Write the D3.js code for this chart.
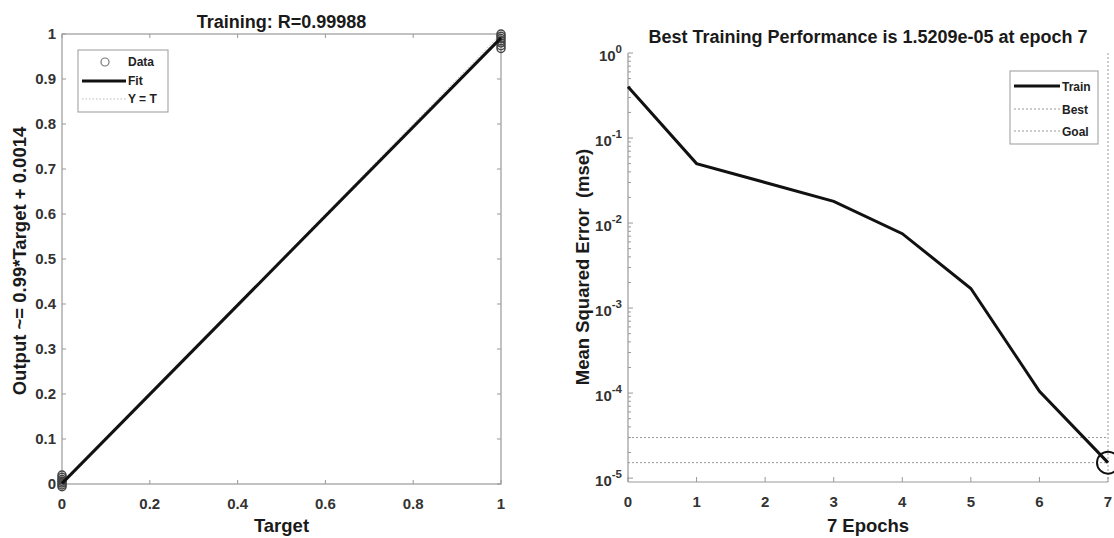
<!DOCTYPE html>
<html>
<head>
<meta charset="utf-8">
<script src="https://cdn.jsdelivr.net/npm/d3@7"></script>
<style>
  html, body { margin: 0; padding: 0; background: #fff; }
  svg { display: block; font-family: "Liberation Sans", Arial, sans-serif; }
</style>
</head>
<body>
<svg id="chart" width="1114" height="538"></svg>
<script>
// left panel: regression
const dataTarget = [0, 0, 0, 0, 0, 0, 0, 1, 1, 1, 1, 1, 1, 1]
const dataOutput = [-0.006, -0.002, 0.002, 0.006, 0.010, 0.015, 0.020, 0.968, 0.974, 0.980, 0.985, 0.990, 0.995, 1.0]
const fitSlope = 0.99
const fitOffset = 0.0014
const regXTicks = [0, 0.2, 0.4, 0.6, 0.8, 1]
const regYTicks = [0, 0.1, 0.2, 0.3, 0.4, 0.5, 0.6, 0.7, 0.8, 0.9, 1]
const regLegend = ['Data', 'Fit', 'Y = T']

// right panel: performance
const epochs = [0, 1, 2, 3, 4, 5, 6, 7]
const trainPerf = [0.40, 0.050, 0.030, 0.018, 0.0075, 0.0017, 0.000105, 0.000015209]
const bestEpoch = 7
const bestPerf = 0.000015209
const goalPerf = 0.00003
const perfXTicks = [0, 1, 2, 3, 4, 5, 6, 7]
const perfYExp = [0, -1, -2, -3, -4, -5]
const perfLegend = ['Train', 'Best', 'Goal']

const svg = d3.select('#chart')
const axisColor = '#999'
const labelColor = '#333'
const tickFont = '15px'
const titleFont = '18px'
const axisLabelFont = '18.5px'

svg.append('rect').attr('width', 1114).attr('height', 538).attr('fill', '#fff')

// ---------- left ----------
const drawRegression = () => {
  var m = {left: 62, right: 501, top: 34, bottom: 484}
  const x = d3.scaleLinear().domain([0, 1]).range([m.left, m.right])
  const y = d3.scaleLinear().domain([0, 1]).range([m.bottom, m.top])
  const g = svg.append('g')

  // box
  g.append('rect')
    .attr('x', m.left).attr('y', m.top)
    .attr('width', m.right - m.left).attr('height', m.bottom - m.top)
    .attr('fill', 'none').attr('stroke', axisColor).attr('stroke-width', 1.2)

  // ticks inside, on all sides
  regXTicks.forEach(t => {
    g.append('line').attr('x1', x(t)).attr('x2', x(t)).attr('y1', m.bottom).attr('y2', m.bottom - 4).attr('stroke', axisColor)
    g.append('line').attr('x1', x(t)).attr('x2', x(t)).attr('y1', m.top).attr('y2', m.top + 4).attr('stroke', axisColor)
  })
  regYTicks.forEach(t => {
    g.append('line').attr('x1', m.left).attr('x2', m.left + 4).attr('y1', y(t)).attr('y2', y(t)).attr('stroke', axisColor)
    g.append('line').attr('x1', m.right).attr('x2', m.right - 4).attr('y1', y(t)).attr('y2', y(t)).attr('stroke', axisColor)
  })

  g.selectAll('.xl').data(regXTicks).enter().append('text')
    .attr('x', d => x(d)).attr('y', m.bottom + 25)
    .attr('text-anchor', 'middle')
    .style('font-size', tickFont).style('font-weight', 'bold').style('fill', labelColor)
    .text(d => d3.format('~g')(d))

  g.selectAll('.yl').data(regYTicks).enter().append('text')
    .attr('x', m.left - 6).attr('y', d => y(d) + 5)
    .attr('text-anchor', 'end')
    .style('font-size', tickFont).style('font-weight', 'bold').style('fill', labelColor)
    .text(d => d3.format('~g')(d))

  // Y = T
  g.append('line')
    .attr('x1', x(0)).attr('y1', y(0)).attr('x2', x(1)).attr('y2', y(1))
    .attr('stroke', '#bbb').attr('stroke-width', 1).attr('stroke-dasharray', '1.5,2')

  // data circles
  g.selectAll('.pt').data(dataTarget).enter().append('circle')
    .attr('cx', d => x(d)).attr('cy', (d, i) => y(dataOutput[i]))
    .attr('r', 4)
    .attr('fill', 'none').attr('stroke', '#444').attr('stroke-width', 1.5)

  // fit
  const line = d3.line().x(d => x(d)).y(d => y(fitSlope * d + fitOffset))
  g.append('path').attr('d', line([0, 1]))
    .attr('fill', 'none').attr('stroke', '#111').attr('stroke-width', 3)

  // title and labels
  g.append('text').attr('x', (m.left + m.right) / 2).attr('y', 28)
    .attr('text-anchor', 'middle')
    .style('font-size', titleFont).style('font-weight', 'bold').style('fill', '#1a1a1a')
    .text('Training: R=0.99988')
  g.append('text').attr('x', (m.left + m.right) / 2).attr('y', 532)
    .attr('text-anchor', 'middle')
    .style('font-size', axisLabelFont).style('font-weight', 'bold').style('fill', '#1a1a1a')
    .text('Target')
  g.append('text')
    .attr('transform', `translate(26,261) rotate(-90)`)
    .attr('text-anchor', 'middle')
    .style('font-size', axisLabelFont).style('font-weight', 'bold').style('fill', '#1a1a1a')
    .text('Output ~= 0.99*Target + 0.0014')

  // legend
  const lg = g.append('g')
  lg.append('rect').attr('x', 78).attr('y', 50).attr('width', 90).attr('height', 62)
    .attr('fill', '#fff').attr('stroke', axisColor).attr('stroke-width', 1)
  lg.append('circle').attr('cx', 105).attr('cy', 62).attr('r', 4)
    .attr('fill', 'none').attr('stroke', '#777').attr('stroke-width', 1.2)
  lg.append('line').attr('x1', 82).attr('x2', 126).attr('y1', 81).attr('y2', 81)
    .attr('stroke', '#111').attr('stroke-width', 3)
  lg.append('line').attr('x1', 82).attr('x2', 126).attr('y1', 99).attr('y2', 99)
    .attr('stroke', '#bbb').attr('stroke-width', 1).attr('stroke-dasharray', '1.5,2')
  lg.selectAll('.lt').data(regLegend).enter().append('text')
    .attr('x', 128).attr('y', (d, i) => 66 + i * 18.5)
    .style('font-size', '12px').style('font-weight', 'bold').style('fill', '#222')
    .text(d => d)
}

// ---------- right ----------
const drawPerformance = () => {
  var m = {left: 628, right: 1108, top: 53, bottom: 482}
  const x = d3.scaleLinear().domain([0, 7]).range([m.left, m.right])
  const y = d3.scaleLog().domain([9e-6, 1]).range([m.bottom, m.top])
  const g = svg.append('g')

  // axes lines
  g.append('line').attr('x1', m.left).attr('x2', m.left).attr('y1', m.top).attr('y2', m.bottom)
    .attr('stroke', axisColor).attr('stroke-width', 1.2)
  g.append('line').attr('x1', m.left).attr('x2', m.right).attr('y1', m.bottom).attr('y2', m.bottom)
    .attr('stroke', axisColor).attr('stroke-width', 1.2)

  perfXTicks.forEach(t => {
    g.append('line').attr('x1', x(t)).attr('x2', x(t)).attr('y1', m.bottom).attr('y2', m.bottom - 5).attr('stroke', axisColor)
  })
  // log ticks, major and minor
  perfYExp.forEach(e => {
    const v = Math.pow(10, e)
    g.append('line').attr('x1', m.left).attr('x2', m.left + 5).attr('y1', y(v)).attr('y2', y(v)).attr('stroke', axisColor)
    if (e < 0) {
      d3.range(2, 10).forEach(k => {
        const mv = k * v
        g.append('line').attr('x1', m.left).attr('x2', m.left + 3).attr('y1', y(mv)).attr('y2', y(mv)).attr('stroke', axisColor)
      })
    }
  })

  g.selectAll('.xl').data(perfXTicks).enter().append('text')
    .attr('x', d => x(d)).attr('y', m.bottom + 25)
    .attr('text-anchor', 'middle')
    .style('font-size', tickFont).style('font-weight', 'bold').style('fill', labelColor)
    .text(d => d)

  const yl = g.selectAll('.yl').data(perfYExp).enter().append('text')
    .attr('x', m.left - 6).attr('y', d => y(Math.pow(10, d)) + 8)
    .attr('text-anchor', 'end')
    .style('font-size', tickFont).style('font-weight', 'bold').style('fill', labelColor)
  yl.append('tspan').text('10')
  yl.append('tspan').attr('dy', -8).style('font-size', '11.5px').text(d => d)

  // best / goal
  const dotted = sel => sel.attr('stroke', '#999').attr('stroke-width', 1).attr('stroke-dasharray', '2,2')
  g.append('line').attr('x1', m.left).attr('x2', m.right).attr('y1', y(goalPerf)).attr('y2', y(goalPerf)).call(dotted)
  g.append('line').attr('x1', m.left).attr('x2', m.right).attr('y1', y(bestPerf)).attr('y2', y(bestPerf)).call(dotted)
  g.append('line').attr('x1', x(bestEpoch)).attr('x2', x(bestEpoch)).attr('y1', m.top).attr('y2', m.bottom).call(dotted)

  // train curve
  const line = d3.line().x((d, i) => x(epochs[i])).y(d => y(d))
  g.append('path').attr('d', line(trainPerf))
    .attr('fill', 'none').attr('stroke', '#111').attr('stroke-width', 3)
  g.append('circle').attr('cx', x(bestEpoch)).attr('cy', y(bestPerf)).attr('r', 11)
    .attr('fill', 'none').attr('stroke', '#111').attr('stroke-width', 2)

  // title and labels
  g.append('text').attr('x', (m.left + m.right) / 2).attr('y', 43)
    .attr('text-anchor', 'middle')
    .style('font-size', titleFont).style('font-weight', 'bold').style('fill', '#1a1a1a')
    .text('Best Training Performance is 1.5209e-05 at epoch 7')
  g.append('text').attr('x', (m.left + m.right) / 2).attr('y', 532)
    .attr('text-anchor', 'middle')
    .style('font-size', axisLabelFont).style('font-weight', 'bold').style('fill', '#1a1a1a')
    .text('7 Epochs')
  g.append('text')
    .attr('transform', `translate(589,267) rotate(-90)`)
    .attr('text-anchor', 'middle')
    .style('font-size', axisLabelFont).style('font-weight', 'bold').style('fill', '#1a1a1a')
    .style('white-space', 'pre')
    .text('Mean Squared Error  (mse)')

  // legend
  const lg = g.append('g')
  lg.append('rect').attr('x', 1010).attr('y', 71).attr('width', 88).attr('height', 73)
    .attr('fill', '#fff').attr('stroke', axisColor).attr('stroke-width', 1)
  lg.append('line').attr('x1', 1014).attr('x2', 1060).attr('y1', 86).attr('y2', 86)
    .attr('stroke', '#111').attr('stroke-width', 3)
  ;[109, 131].forEach(yy => {
    lg.append('line').attr('x1', 1014).attr('x2', 1060).attr('y1', yy).attr('y2', yy).call(dotted)
  })
  lg.selectAll('.lt').data(perfLegend).enter().append('text')
    .attr('x', 1062).attr('y', (d, i) => 91 + i * 22.5)
    .style('font-size', '12px').style('font-weight', 'bold').style('fill', '#222')
    .text(d => d)
}

drawRegression()
drawPerformance()
</script>
</body>
</html>
